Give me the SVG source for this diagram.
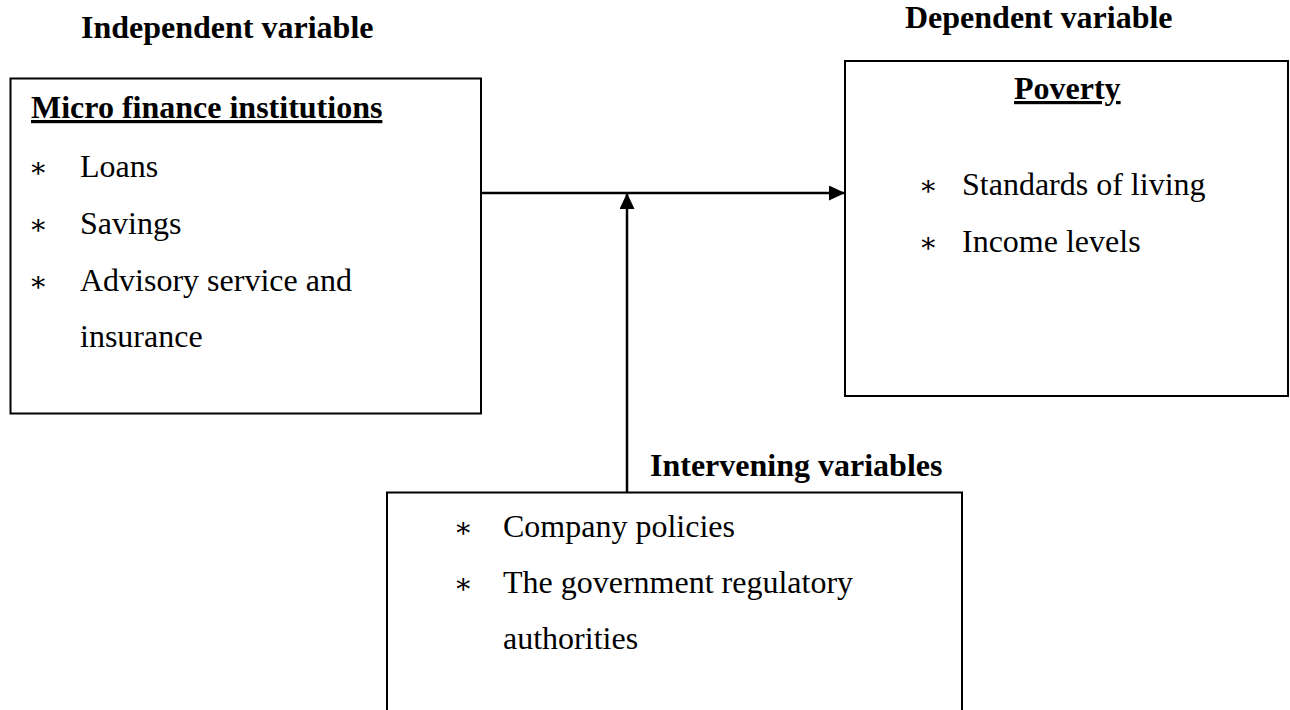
<svg xmlns="http://www.w3.org/2000/svg" width="1290" height="710" viewBox="0 0 1290 710">
<style>
  .box { fill: #ffffff; stroke: #000000; stroke-width: 2; }
  .head { font-family: "Liberation Serif", "Times New Roman", serif; font-weight: bold; font-size: 32px; fill: #000; }
  .title { font-family: "Liberation Serif", "Times New Roman", serif; font-weight: bold; font-size: 32px; fill: #000; text-decoration: underline; }
  .item { font-family: "Liberation Serif", "Times New Roman", serif; font-size: 32px; fill: #000; }
  .bul { font-family: "Liberation Serif", "DejaVu Serif", serif; font-size: 28px; fill: #000; text-anchor: middle; }
  .conn { fill: none; stroke: #000000; stroke-width: 2.5; }
</style>
<defs>
  <marker id="arrow" markerUnits="userSpaceOnUse" markerWidth="18" markerHeight="16" refX="16" refY="7.5" orient="auto">
    <path d="M0,0 L16,7.5 L0,15 Z" fill="#000"/>
  </marker>
</defs>
<rect width="1290" height="710" fill="#ffffff"/>

<g id="connectors">
  <line class="conn" x1="481" y1="193" x2="845" y2="193" marker-end="url(#arrow)"/>
  <line class="conn" x1="627" y1="492" x2="627" y2="193" marker-end="url(#arrow)"/>
</g>

<g id="independent">
  <text class="head" x="81" y="38">Independent variable</text>
  <rect class="box" x="10.5" y="78.5" width="470.5" height="335"/>
  <text class="title" x="31" y="118">Micro finance institutions</text>
  <text class="bul" x="38" y="177">∗</text>
  <text class="item" x="80" y="177">Loans</text>
  <text class="bul" x="38" y="234">∗</text>
  <text class="item" x="80" y="234">Savings</text>
  <text class="bul" x="38" y="291">∗</text>
  <text class="item" x="80" y="291">Advisory service and</text>
  <text class="item" x="80" y="347">insurance</text>
</g>

<g id="dependent">
  <text class="head" x="905" y="28">Dependent variable</text>
  <rect class="box" x="845" y="61" width="443" height="335"/>
  <text class="title" x="1014" y="99">Poverty</text>
  <text class="bul" x="928" y="195">∗</text>
  <text class="item" x="962" y="195">Standards of living</text>
  <text class="bul" x="928" y="252">∗</text>
  <text class="item" x="962" y="252">Income levels</text>
</g>

<g id="intervening">
  <text class="head" x="650" y="476">Intervening variables</text>
  <rect class="box" x="387" y="492.5" width="575" height="230"/>
  <text class="bul" x="463" y="537">∗</text>
  <text class="item" x="503" y="537">Company policies</text>
  <text class="bul" x="463" y="593">∗</text>
  <text class="item" x="503" y="593">The government regulatory</text>
  <text class="item" x="503" y="649">authorities</text>
</g>
</svg>
